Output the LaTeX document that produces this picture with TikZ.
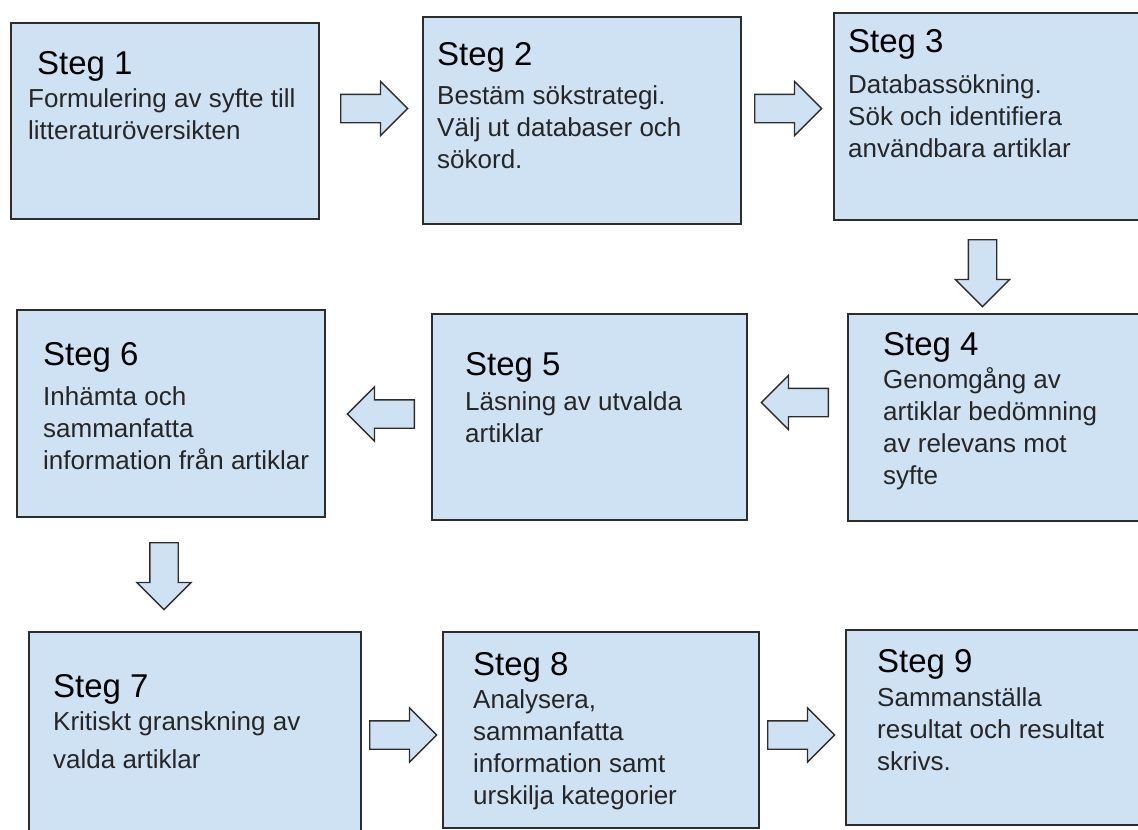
\documentclass[tikz,border=0pt]{standalone}
\usepackage{fontspec}
\setmainfont{Liberation Sans}
\usepackage{tikz}
\usetikzlibrary{shapes.arrows,positioning}
\definecolor{stegblue}{RGB}{207,226,243}
\definecolor{steggray}{RGB}{45,45,45}
\tikzstyle{stegbox} = [rectangle, draw=steggray, fill=stegblue, line width=1.6pt, inner sep=0pt]
\tikzstyle{stegtext} = [anchor=base west, inner sep=0pt, text=black!85, font=\fontsize{26}{32}\selectfont]
\tikzstyle{blockarrow} = [single arrow, draw=steggray, fill=stegblue, line width=1.3pt, minimum height=67pt, minimum width=53pt, single arrow head extend=13pt, inner sep=13.5pt, anchor=tail]
\newcommand{\stegtitle}[1]{{\fontsize{33}{33}\selectfont\color{black}Steg #1}}

\begin{document}
\begin{tikzpicture}[x=1pt, y=-1pt]
\useasboundingbox (0,0) rectangle (1138,830);

% Row 1
\node[stegbox, minimum width=308pt, minimum height=196pt] (s1) at (165,121) {};
\node[stegbox, minimum width=318pt, minimum height=207pt] (s2) at (582,120.5) {};
\node[stegbox, minimum width=316pt, minimum height=207pt] (s3) at (992,116.5) {};

% Row 2
\node[stegbox, minimum width=302pt, minimum height=207pt] (s4) at (999,417.5) {};
\node[stegbox, minimum width=315pt, minimum height=206pt] (s5) at (589.5,417) {};
\node[stegbox, minimum width=308pt, minimum height=207pt] (s6) at (171,413.5) {};

% Row 3
\node[stegbox, minimum width=332pt, minimum height=208pt] (s7) at (195,736) {};
\node[stegbox, minimum width=316pt, minimum height=196pt] (s8) at (601,730) {};
\node[stegbox, minimum width=304pt, minimum height=195pt] (s9) at (998,727.5) {};

% Texts
\node[stegtext] (t1) at (28,74) {\begin{tabular}[t]{@{}l@{}}\hspace{9pt}\stegtitle{1}\\[1pt] Formulering av syfte till\\ litteraturöversikten\end{tabular}};
\node[stegtext] (t2) at (437,65) {\begin{tabular}[t]{@{}l@{}}\stegtitle{2}\\[7pt] Bestäm sökstrategi.\\ Välj ut databaser och\\ sökord.\end{tabular}};
\node[stegtext] (t3) at (848,52) {\begin{tabular}[t]{@{}l@{}}\stegtitle{3}\\[9pt] Databassökning.\\ Sök och identifiera\\ användbara artiklar\end{tabular}};
\node[stegtext] (t4) at (883,355) {\begin{tabular}[t]{@{}l@{}}\stegtitle{4}\\[1pt] Genomgång av\\ artiklar bedömning\\ av relevans mot\\ syfte\end{tabular}};
\node[stegtext] (t5) at (465,375) {\begin{tabular}[t]{@{}l@{}}\stegtitle{5}\\[3pt] Läsning av utvalda\\ artiklar\end{tabular}};
\node[stegtext] (t6) at (43,365) {\begin{tabular}[t]{@{}l@{}}\stegtitle{6}\\[8pt] Inhämta och\\ sammanfatta\\ information från artiklar\end{tabular}};
\node[stegtext] (t7) at (53,697) {\begin{tabular}[t]{@{}l@{}}\stegtitle{7}\\[1pt] Kritiskt granskning av\\[6pt] valda artiklar\end{tabular}};
\node[stegtext] (t8) at (473,675) {\begin{tabular}[t]{@{}l@{}}\stegtitle{8}\\[1pt] Analysera,\\ sammanfatta\\ information samt\\ urskilja kategorier\end{tabular}};
\node[stegtext] (t9) at (877,672) {\begin{tabular}[t]{@{}l@{}}\stegtitle{9}\\[2pt] Sammanställa\\ resultat och resultat\\ skrivs.\end{tabular}};

% Arrows (placed by their tails)
\node[blockarrow] (a12) at (340,108.5) {};
\node[blockarrow] (a23) at (754,108.5) {};
\node[blockarrow, shape border rotate=270] (a34) at (982.5,239) {};
\node[blockarrow, shape border rotate=180] (a45) at (829,402.5) {};
\node[blockarrow, shape border rotate=180] (a56) at (415,414) {};
\node[blockarrow, shape border rotate=270] (a67) at (164,542) {};
\node[blockarrow] (a78) at (369,735) {};
\node[blockarrow] (a89) at (767,735) {};
\end{tikzpicture}
\end{document}
